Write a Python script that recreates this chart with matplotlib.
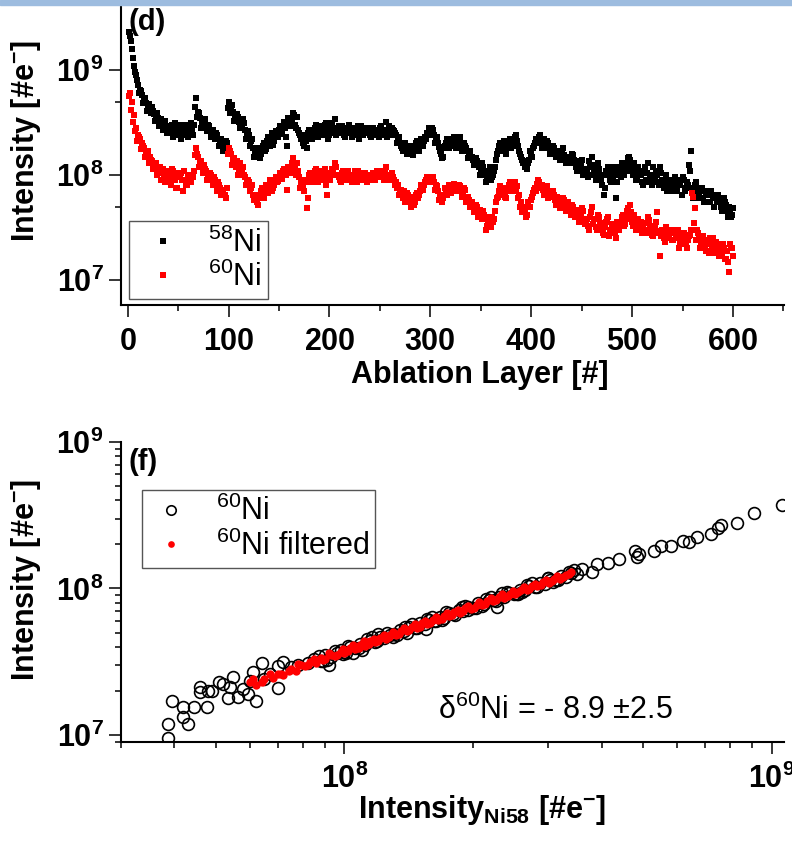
import numpy as np
import matplotlib
matplotlib.use('Agg')
import matplotlib.pyplot as plt
from matplotlib.ticker import LogLocator, FuncFormatter, MultipleLocator, NullFormatter
from matplotlib.patches import Rectangle

plt.rcParams['font.family'] = ['Liberation Sans', 'DejaVu Sans']
plt.rcParams['mathtext.fontset'] = 'custom'
plt.rcParams['mathtext.rm'] = 'Liberation Sans'
plt.rcParams['mathtext.bf'] = 'Liberation Sans:bold'
plt.rcParams['mathtext.default'] = 'regular'

# ---- (d) intensity per ablation layer, units of 1e8 e- ----
# even layers 2, 4, ..., 600
ni58_even = [
    21, 16, 11, 8.9, 7.2, 6.5, 5.8, 5.2, 4.9, 4.6, 4.2, 4.4, 3.8, 3.6, 3.5, 3.3, 3.0, 3.2, 2.9, 2.8,
    2.6, 3.0, 2.5, 2.8, 2.7, 3.0, 2.4, 2.9, 2.6, 2.3,
    2.8, 2.6, 3.0, 5.4, 4.0, 3.5, 3.1, 3.3, 2.9, 3.0, 2.7, 2.6, 2.4, 2.5, 2.2, 2.1, 1.9, 1.8, 2.0, 5.0,
    4.5, 4.0, 3.6, 3.8, 3.2, 3.0, 3.4, 2.7, 2.5, 2.4,
    2.1, 1.8, 1.65, 1.55, 1.75, 1.6, 1.9, 1.7, 2.1, 2.0, 2.3, 1.95, 2.5, 2.3, 2.7, 2.45, 2.9, 2.8, 1.9, 3.1,
    3.3, 3.9, 3.0, 3.6, 2.5, 2.2, 2.0, 2.4, 1.8, 2.7,
    2.3, 2.6, 2.8, 2.4, 2.9, 2.5, 2.7, 3.0, 2.6, 2.4, 2.8, 2.5, 3.4, 2.7, 2.6, 2.9, 2.4, 2.5, 2.8, 2.6,
    2.3, 2.7, 2.5, 2.9, 2.4, 2.6, 2.8, 2.5, 2.7, 2.4,
    2.6, 2.4, 2.7, 2.5, 2.8, 2.6, 2.4, 3.2, 2.7, 2.5, 2.8, 2.6, 2.4, 2.2, 2.0, 1.8, 1.9, 1.7, 1.8, 1.6,
    1.9, 1.7, 2.0, 1.8, 1.9, 2.0, 2.1, 2.2, 2.4, 2.6,
    2.8, 2.4, 2.2, 2.0, 1.7, 1.45, 1.8, 2.0, 1.9, 2.1, 2.2, 1.9, 2.0, 2.2, 2.0, 1.8, 1.9, 1.7, 1.6, 1.5,
    1.4, 1.3, 1.35, 1.2, 1.1, 1.2, 1.0, 0.95, 1.1, 0.9,
    1.0, 1.2, 1.6, 1.9, 1.8, 2.0, 1.7, 1.9, 2.1, 1.8, 2.2, 2.3, 2.1, 1.7, 1.5, 1.3, 1.2, 1.15, 1.4, 1.6,
    1.8, 2.0, 2.1, 2.3, 2.2, 2.0, 1.9, 2.1, 1.8, 1.7,
    1.9, 1.6, 1.7, 1.5, 1.55, 1.8, 1.4, 1.5, 1.3, 1.6, 1.4, 1.2, 1.3, 1.15, 1.4, 1.1, 1.0, 0.95, 1.2, 1.5,
    1.1, 0.9, 1.3, 1.0, 0.8, 0.65, 1.1, 1.2, 0.9, 1.0,
    1.2, 0.6, 1.0, 1.1, 1.3, 1.0, 1.2, 1.45, 1.4, 1.1, 1.3, 0.9, 1.2, 1.0, 0.85, 1.1, 0.9, 1.3, 1.0, 0.8,
    0.95, 1.1, 0.85, 1.2, 0.9, 0.75, 1.0, 0.8, 0.9, 0.7,
    0.85, 0.75, 0.9, 0.8, 0.95, 0.7, 0.85, 1.25, 1.7, 0.6, 0.8, 0.7, 0.65, 0.75, 0.6, 0.7, 0.65, 0.55, 0.7, 0.6,
    0.65, 0.55, 0.6, 0.5, 0.6, 0.55, 0.45, 0.5, 0.4, 0.48,
]
ni60_even = [
    6.1, 5.0, 3.7, 2.8, 2.4, 2.2, 2.0, 1.8, 1.65, 1.7, 1.5, 1.35, 1.25, 1.3, 1.1, 1.2, 1.05, 0.95, 1.1, 1.0,
    0.85, 1.15, 0.95, 0.75, 1.05, 1.0, 0.9, 1.1, 0.8, 0.95,
    0.9, 1.0, 1.1, 1.8, 1.5, 1.3, 1.2, 1.25, 1.1, 1.0, 1.05, 0.9, 0.95, 0.8, 0.85, 0.75, 0.7, 0.65, 0.75, 1.8,
    1.6, 1.4, 1.3, 1.35, 1.15, 1.1, 1.2, 0.95, 0.9, 0.85,
    0.75, 0.65, 0.6, 0.55, 0.6, 0.7, 0.65, 0.75, 0.7, 0.8, 0.85, 0.75, 0.9, 0.85, 0.95, 1.0, 1.1, 1.05, 0.72, 1.1,
    1.2, 1.45, 1.15, 1.3, 0.95, 0.85, 0.8, 0.9, 0.49, 1.0,
    0.9, 1.0, 1.1, 0.95, 1.05, 0.9, 1.0, 1.15, 0.65, 0.95, 1.0, 1.1, 1.3, 1.0, 0.9, 1.05, 0.95, 1.0, 1.1, 0.9,
    0.85, 1.0, 0.95, 1.1, 0.9, 1.0, 1.05, 0.95, 1.0, 0.9,
    1.0, 0.95, 1.05, 1.0, 1.1, 0.95, 0.9, 1.2, 1.0, 0.95, 1.05, 0.9, 0.85, 0.8, 0.7, 0.65, 0.7, 0.6, 0.65, 0.55,
    0.6, 0.52, 0.65, 0.6, 0.7, 0.75, 0.8, 0.9, 0.85, 0.95,
    0.9, 0.85, 0.8, 0.7, 0.62, 0.55, 0.65, 0.7, 0.75, 0.72, 0.8, 0.7, 0.75, 0.8, 0.7, 0.68, 0.72, 0.6, 0.58, 0.55,
    0.5, 0.48, 0.5, 0.45, 0.42, 0.45, 0.38, 0.33, 0.4, 0.32,
    0.36, 0.45, 0.6, 0.7, 0.68, 0.75, 0.62, 0.7, 0.8, 0.7, 0.82, 0.85, 0.78, 0.65, 0.55, 0.5, 0.45, 0.42, 0.5, 0.58,
    0.68, 0.75, 0.82, 0.85, 0.8, 0.72, 0.7, 0.78, 0.65, 0.62,
    0.7, 0.58, 0.62, 0.55, 0.52, 0.6, 0.5, 0.55, 0.47, 0.52, 0.45, 0.42, 0.46, 0.4, 0.48, 0.38, 0.35, 0.33, 0.4, 0.5,
    0.38, 0.32, 0.42, 0.35, 0.3, 0.27, 0.36, 0.4, 0.3, 0.34,
    0.28, 0.25, 0.32, 0.35, 0.4, 0.33, 0.38, 0.48, 0.52, 0.36, 0.42, 0.3, 0.38, 0.32, 0.28, 0.35, 0.3, 0.4, 0.33, 0.27,
    0.3, 0.36, 0.29, 0.17, 0.3, 0.25, 0.32, 0.27, 0.3, 0.24,
    0.28, 0.25, 0.3, 0.22, 0.27, 0.24, 0.2, 0.26, 0.3, 0.62, 0.48, 0.3, 0.25, 0.22, 0.26, 0.2, 0.24, 0.18, 0.22, 0.25,
    0.19, 0.21, 0.17, 0.2, 0.22, 0.16, 0.19, 0.12, 0.2, 0.17,
]
# odd layers 1, 3, ..., 599
ni58_odd = [
    23, 19, 13, 9.5, 8.0, 6.0, 6.3, 4.8, 5.4, 4.1, 4.7, 3.9, 4.1, 3.3, 3.9, 2.9, 3.4, 2.7, 3.3, 2.5,
    2.9, 2.7, 2.3, 3.1, 2.4, 2.8, 2.2, 2.6, 3.0, 2.7,
    2.5, 3.1, 2.4, 4.4, 3.6, 3.9, 2.8, 3.0, 3.4, 2.6, 2.9, 2.3, 2.7, 2.2, 2.4, 1.9, 2.2, 1.7, 2.1, 4.3,
    3.9, 4.6, 3.3, 3.4, 3.6, 2.8, 2.9, 3.1, 2.2, 2.6,
    1.9, 2.2, 1.5, 1.8, 1.6, 1.45, 1.8, 2.0, 1.75, 2.3, 1.9, 2.5, 2.1, 2.6, 2.3, 2.9, 2.5, 3.2, 2.3, 3.5,
    2.9, 3.4, 3.7, 2.8, 2.7, 2.4, 2.3, 1.9, 2.1, 2.5,
    2.6, 2.2, 2.5, 3.0, 2.3, 2.7, 2.9, 2.4, 3.1, 2.2, 2.6, 3.1, 2.8, 2.4, 2.9, 2.5, 2.7, 2.3, 2.6, 3.0,
    2.5, 2.4, 2.8, 2.6, 2.2, 2.9, 2.4, 2.7, 2.5, 2.8,
    2.3, 2.8, 2.5, 2.6, 2.3, 2.9, 2.7, 2.6, 2.3, 2.9, 2.4, 2.7, 2.5, 2.0, 2.3, 1.9, 1.7, 2.0, 1.6, 1.9,
    1.75, 1.55, 1.85, 2.1, 1.7, 2.2, 1.9, 2.3, 2.5, 2.8,
    2.5, 2.7, 2.0, 2.3, 1.85, 1.6, 1.5, 1.9, 2.2, 1.8, 2.0, 2.3, 1.8, 1.9, 2.3, 1.7, 2.0, 1.8, 1.45, 1.7,
    1.5, 1.25, 1.45, 1.3, 1.0, 1.3, 1.1, 0.85, 1.0, 1.2,
    0.95, 1.1, 1.4, 1.7, 2.0, 1.7, 2.1, 1.6, 2.0, 2.2, 1.9, 2.0, 2.4, 1.9, 1.6, 1.4, 1.35, 1.25, 1.3, 1.7,
    1.5, 1.9, 2.2, 2.0, 2.4, 1.8, 2.2, 1.8, 2.0, 1.6,
    1.7, 1.8, 1.5, 1.65, 1.4, 1.7, 1.55, 1.3, 1.45, 1.35, 1.55, 1.3, 1.1, 1.35, 1.25, 1.0, 1.15, 1.05, 1.35, 1.0,
    1.25, 1.05, 0.95, 1.15, 0.9, 1.0, 0.75, 1.0, 1.1, 0.85,
    0.95, 1.1, 0.85, 1.2, 0.95, 1.15, 1.3, 1.1, 1.5, 1.25, 1.0, 1.15, 0.95, 1.1, 1.0, 0.8, 1.2, 1.05, 0.85, 0.95,
    1.2, 0.9, 1.0, 0.8, 1.05, 0.85, 0.9, 0.7, 0.85, 0.8,
    0.75, 0.95, 0.7, 0.8, 0.65, 0.9, 0.75, 0.8, 1.1, 0.75, 0.65, 0.85, 0.6, 0.7, 0.75, 0.55, 0.65, 0.7, 0.55, 0.65,
    0.5, 0.6, 0.65, 0.55, 0.45, 0.6, 0.52, 0.4, 0.45, 0.42,
]
ni60_odd = [
    5.6, 4.2, 3.2, 2.6, 2.1, 2.3, 1.75, 1.9, 1.5, 1.55, 1.3, 1.4, 1.15, 1.2, 1.0, 1.1, 0.9, 1.15, 0.85, 1.05,
    0.95, 0.8, 1.1, 0.9, 0.75, 0.95, 1.05, 0.7, 0.9, 0.8,
    1.0, 0.85, 0.95, 1.55, 1.6, 1.2, 1.35, 1.05, 1.15, 0.9, 0.95, 1.0, 0.8, 0.9, 0.7, 0.8, 0.65, 0.72, 0.6, 1.6,
    1.7, 1.25, 1.45, 1.2, 1.0, 1.3, 1.05, 1.0, 0.8, 0.9,
    0.7, 0.8, 0.58, 0.65, 0.52, 0.62, 0.75, 0.6, 0.8, 0.68, 0.9, 0.7, 0.8, 0.95, 0.88, 1.05, 0.92, 1.15, 1.0, 1.2,
    1.05, 1.3, 1.25, 1.0, 1.1, 0.75, 0.9, 0.7, 0.85, 0.6,
    1.05, 0.85, 0.95, 1.15, 0.85, 1.0, 1.1, 0.9, 0.8, 1.05, 0.9, 1.15, 1.0, 1.2, 0.95, 0.85, 1.1, 0.9, 1.05, 0.95,
    1.0, 0.9, 1.1, 0.85, 1.0, 0.95, 0.9, 1.05, 0.85, 1.0,
    0.95, 1.05, 0.9, 1.1, 0.95, 1.0, 1.05, 1.1, 0.9, 1.0, 0.9, 0.95, 0.8, 0.75, 0.65, 0.72, 0.6, 0.55, 0.68, 0.6,
    0.5, 0.62, 0.55, 0.68, 0.65, 0.8, 0.72, 0.85, 0.95, 0.88,
    0.85, 0.95, 0.72, 0.78, 0.58, 0.62, 0.6, 0.75, 0.65, 0.8, 0.68, 0.82, 0.7, 0.72, 0.78, 0.62, 0.75, 0.55, 0.62, 0.5,
    0.55, 0.44, 0.52, 0.4, 0.46, 0.38, 0.42, 0.3, 0.36, 0.35,
    0.4, 0.38, 0.55, 0.62, 0.78, 0.65, 0.72, 0.6, 0.75, 0.85, 0.75, 0.78, 0.7, 0.6, 0.5, 0.44, 0.48, 0.4, 0.55, 0.5,
    0.62, 0.72, 0.7, 0.9, 0.75, 0.8, 0.65, 0.72, 0.6, 0.7,
    0.62, 0.65, 0.52, 0.58, 0.48, 0.55, 0.58, 0.45, 0.5, 0.42, 0.5, 0.4, 0.44, 0.36, 0.42, 0.45, 0.34, 0.38, 0.3, 0.44,
    0.34, 0.38, 0.3, 0.4, 0.33, 0.28, 0.32, 0.38, 0.26, 0.3,
    0.32, 0.28, 0.36, 0.3, 0.36, 0.42, 0.34, 0.45, 0.4, 0.44, 0.33, 0.38, 0.34, 0.3, 0.36, 0.31, 0.35, 0.28, 0.37, 0.3,
    0.26, 0.33, 0.44, 0.28, 0.26, 0.3, 0.23, 0.28, 0.25, 0.29,
    0.24, 0.3, 0.26, 0.2, 0.25, 0.28, 0.22, 0.24, 0.27, 0.68, 0.35, 0.24, 0.28, 0.2, 0.23, 0.22, 0.19, 0.23, 0.25, 0.2,
    0.18, 0.23, 0.19, 0.22, 0.18, 0.2, 0.16, 0.15, 0.22, 0.2,
]

# ---- (f) 60Ni vs 58Ni, units of 1e7 e- ----
all_ni58 = [
    3.86, 3.87, 3.95, 4.2, 4.2, 4.3, 4.45, 4.6, 4.6, 4.78, 4.8, 4.9, 5.1, 5.2, 5.35, 5.4,
    5.5, 5.65, 5.96, 6.1, 6.2, 6.4, 7.0, 7.0, 7.2, 6.7, 6.5, 7.5, 7.8, 8.2, 5.8, 6.0,
    8.5, 8.8, 9.0, 9.3, 9.6, 9.8, 10.0, 10.3, 10.6, 10.9, 11.2, 11.5, 11.8, 12.1, 12.4, 12.8,
    13.1, 13.5, 13.8, 14.2, 14.6, 15.0, 15.4, 15.8, 16.2, 16.7, 17.1, 17.6, 18.0, 18.5, 19.0, 19.5,
    20.0, 20.6, 21.2, 21.8, 22.4, 23.0, 23.6, 24.3, 25.0, 25.7, 26.4, 27.1, 27.9, 28.7, 29.5, 30.3,
    31.2, 32.1, 33.0, 34.0, 35.0,
    9.2, 11.0, 12.0, 14.0, 16.0, 19.5, 22.0, 26.0, 30.0, 10.5, 22.8, 15.5,
    8.7, 9.1, 9.5, 9.9, 10.2, 10.8, 11.3, 11.9, 12.6, 13.3, 13.9, 14.8, 15.6, 16.4, 17.3, 18.2,
    19.2, 20.3, 21.5, 22.7, 24.0, 25.3, 26.8, 28.2, 29.9, 31.6, 33.5, 8.9, 10.1, 11.6, 13.0, 14.4,
    16.9, 18.8, 21.0, 23.4, 25.5, 27.5, 30.8, 34.5,
    36, 39, 38, 41.5, 44, 48, 48.5, 49, 53, 55, 58, 62, 64, 67, 72, 75, 76, 83, 91, 106,
]
all_ni60 = [
    0.96, 1.18, 1.70, 1.56, 1.32, 1.18, 1.56, 1.95, 2.14, 1.54, 1.98, 1.98, 2.3, 2.22, 1.8, 2.14,
    2.47, 1.81, 1.89, 2.67, 1.7, 3.1, 2.94, 2.1, 3.15, 2.6, 2.4, 2.9, 3.0, 3.1, 2.05, 2.35,
    3.3, 3.2, 3.5, 3.4, 3.6, 3.8, 3.7, 4.0, 3.9, 4.2, 4.1, 4.4, 4.3, 4.7, 4.6, 4.8,
    4.9, 5.2, 5.1, 5.5, 5.4, 5.8, 5.7, 6.1, 6.0, 6.4, 6.3, 6.8, 6.7, 7.1, 7.0, 7.5,
    7.4, 7.9, 7.8, 8.4, 8.3, 8.8, 8.7, 9.3, 9.2, 9.8, 9.7, 10.4, 10.3, 10.9, 10.8, 11.5,
    11.4, 12.1, 12.0, 12.8, 12.6,
    3.0, 3.8, 4.9, 5.0, 6.4, 7.1, 8.7, 9.4, 11.8, 3.6, 7.5, 5.3,
    3.45, 3.25, 3.72, 3.55, 4.05, 3.95, 4.5, 4.35, 5.0, 4.85, 5.5, 5.4, 6.2, 5.95, 6.9, 6.6,
    7.6, 7.35, 8.5, 8.2, 9.5, 9.15, 10.6, 10.2, 11.8, 11.5, 13.0, 3.2, 3.6, 4.7, 4.7, 5.75,
    6.1, 7.5, 7.6, 9.3, 9.2, 10.9, 11.1, 13.4,
    13.5, 14.8, 12.9, 15.0, 15.8, 17.9, 16.5, 17.1, 17.9, 19.4, 19.6, 21, 20.6, 22.3, 23.4, 26, 27, 28, 32.5, 37,
]
filt_ni58 = [
    6.0, 6.2, 6.5, 6.8, 7.0, 7.2, 7.5, 7.7, 7.9, 8.1, 8.3, 8.6, 8.8, 9.0, 9.3, 9.5, 9.8, 10.0, 10.3, 10.6,
    10.9, 11.2, 11.5, 11.8, 12.1, 12.5, 12.8, 13.2, 13.6, 14.0, 14.4, 14.8, 15.2, 15.6, 16.1, 16.6, 17.1, 17.6, 18.1, 18.6,
    19.2, 19.8, 20.4, 21.0, 21.6, 22.3, 23.0, 23.7, 24.4, 25.1, 25.9, 26.7, 27.5, 28.3, 29.2, 30.1, 31.0, 32.0, 33.0, 34.0,
    6.1, 6.4, 6.7, 7.1, 7.4, 7.8, 8.2, 8.5, 8.9, 9.2, 9.6, 9.9, 10.2, 10.5, 10.8, 11.1, 11.4, 11.7, 12.0, 12.4,
    12.7, 13.0, 13.4, 13.8, 14.2, 14.6, 15.0, 15.4, 15.9, 16.4, 16.9, 17.4, 17.9, 18.4, 19.0, 19.5, 20.1, 20.7, 21.3, 22.0,
    22.7, 23.4, 24.1, 24.8, 25.5, 26.3, 27.1, 27.9, 28.8, 29.7, 30.6, 31.5, 32.5, 33.5,
]
filt_ni60 = [
    2.3, 2.2, 2.4, 2.45, 2.6, 2.55, 2.8, 2.75, 3.0, 2.95, 3.15, 3.1, 3.35, 3.3, 3.5, 3.45, 3.7, 3.65, 3.9, 3.85,
    4.1, 4.05, 4.35, 4.3, 4.6, 4.55, 4.85, 4.8, 5.15, 5.1, 5.45, 5.4, 5.8, 5.75, 6.1, 6.05, 6.5, 6.45, 6.9, 6.85,
    7.3, 7.25, 7.75, 7.7, 8.2, 8.15, 8.7, 8.65, 9.2, 9.15, 9.8, 9.75, 10.4, 10.35, 11.0, 10.95, 11.6, 11.55, 12.3, 12.9,
    2.4, 2.3, 2.6, 2.6, 2.75, 3.05, 3.0, 3.3, 3.25, 3.6, 3.5, 3.85, 3.75, 4.1, 3.95, 4.35, 4.2, 4.55, 4.4, 4.8,
    4.65, 5.05, 4.9, 5.35, 5.2, 5.7, 5.5, 6.0, 5.85, 6.4, 6.2, 6.8, 6.6, 7.15, 7.0, 7.6, 7.4, 8.05, 7.85, 8.55,
    8.35, 9.1, 8.85, 9.65, 9.4, 10.2, 9.95, 10.8, 10.6, 11.5, 11.3, 12.2, 12.0, 12.6,
]
delta_text = 'δ$^{60}$Ni = - 8.9 ±2.5'


def pow10(v, pos):
    return r'$\mathbf{10^{%d}}$' % int(round(np.log10(v)))


def bold_int(v, pos):
    return r'$\mathbf{%d}$' % int(round(v))


def style_axes(ax):
    for side in ('top', 'right'):
        ax.spines[side].set_visible(False)
    for side in ('left', 'bottom'):
        ax.spines[side].set_linewidth(1.5)
    ax.tick_params(which='major', direction='out', length=8.5, width=1.1, labelsize=22, pad=4)
    ax.tick_params(which='minor', direction='out', length=4.5, width=1.1)
    ax.tick_params(axis='x', which='major', pad=7)


def legend(ax, **kw):
    leg = ax.legend(borderaxespad=0, fontsize=22, fancybox=False, edgecolor='#555555',
                    framealpha=1, borderpad=0.2, labelspacing=0.1, **kw)
    leg.get_frame().set_linewidth(1.0)
    return leg


fig = plt.figure(figsize=(7.92, 8.41), dpi=100)
W, H = 792.0, 841.0
fig.patches.append(Rectangle((0, 1 - 5 / H), 1, 5 / H, transform=fig.transFigure,
                             color='#9dbcdf', zorder=0))

# (d) top panel
layers = np.concatenate([np.arange(2, 601, 2), np.arange(1, 600, 2)])
ni58 = np.array(ni58_even + ni58_odd) * 1e8
ni60 = np.array(ni60_even + ni60_odd) * 1e8
ax1 = fig.add_axes([121 / W, 1 - 305 / H, 663 / W, 300 / H])
ax1.plot(layers, ni58, 's', color='black', ms=4.2, mew=0, label=r'$^{58}$Ni')
ax1.plot(layers, ni60, 's', color='red', ms=4.2, mew=0, label=r'$^{60}$Ni')
ax1.set_yscale('log')
ax1.set_xlim(-6.6, 650.6)
ax1.set_ylim(5.78e6, 4.16e9)
ax1.yaxis.set_major_locator(LogLocator(base=10, numticks=12))
ax1.yaxis.set_minor_locator(LogLocator(base=10, subs=[5.0], numticks=12))
ax1.yaxis.set_major_formatter(FuncFormatter(pow10))
ax1.yaxis.set_minor_formatter(NullFormatter())
ax1.xaxis.set_major_locator(MultipleLocator(100))
ax1.xaxis.set_minor_locator(MultipleLocator(50))
ax1.xaxis.set_major_formatter(FuncFormatter(bold_int))
style_axes(ax1)
ax1.set_xlabel('Ablation Layer [#]', fontsize=22, fontweight='bold')
ax1.xaxis.set_label_coords(0.541, -0.185)
ax1.set_ylabel(r'Intensity [#e$^{\mathbf{-}}$]', fontsize=22, fontweight='bold')
ax1.yaxis.set_label_coords(-0.118, 0.547)
ax1.text(0.012, 0.99, '(d)', transform=ax1.transAxes, fontsize=21, fontweight='bold',
         ha='left', va='top')
legend(ax1, loc='lower left', bbox_to_anchor=(0.012, 0.02), handlelength=1.8,
       handletextpad=0.6, markerscale=1.05)

# (f) bottom panel
ax2 = fig.add_axes([121 / W, 1 - 742 / H, 663 / W, 300 / H])
ax2.plot(np.array(all_ni58) * 1e7, np.array(all_ni60) * 1e7, 'o', mfc='none', mec='black',
         ms=8.5, mew=1.2, label=r'$^{60}$Ni')
ax2.plot(np.array(filt_ni58) * 1e7, np.array(filt_ni60) * 1e7, 'o', color='red', ms=6, mew=0,
         label=r'$^{60}$Ni filtered')
ax2.set_xscale('log')
ax2.set_yscale('log')
ax2.set_xlim(3.0e7, 1.069e9)
ax2.set_ylim(8.95e6, 1e9)
for axis in (ax2.xaxis, ax2.yaxis):
    axis.set_major_locator(LogLocator(base=10, numticks=12))
    axis.set_minor_locator(LogLocator(base=10, subs=np.arange(2, 10), numticks=12))
    axis.set_major_formatter(FuncFormatter(pow10))
    axis.set_minor_formatter(NullFormatter())
style_axes(ax2)
ax2.set_xlabel(r'Intensity$_{\mathbf{Ni58}}$ [#e$^{\mathbf{-}}$]', fontsize=22, fontweight='bold')
ax2.xaxis.set_label_coords(0.545, -0.17)
ax2.set_ylabel(r'Intensity [#e$^{\mathbf{-}}$]', fontsize=22, fontweight='bold')
ax2.yaxis.set_label_coords(-0.118, 0.54)
ax2.text(0.011, 0.98, '(f)', transform=ax2.transAxes, fontsize=21, fontweight='bold',
         ha='left', va='top')
ax2.text(0.478, 0.107, delta_text, transform=ax2.transAxes, fontsize=22, ha='left', va='center')
legend(ax2, loc='upper left', bbox_to_anchor=(0.032, 0.84), handlelength=1.5,
       handletextpad=0.7, markerscale=0.8)

fig.savefig('out.png', dpi=100)
